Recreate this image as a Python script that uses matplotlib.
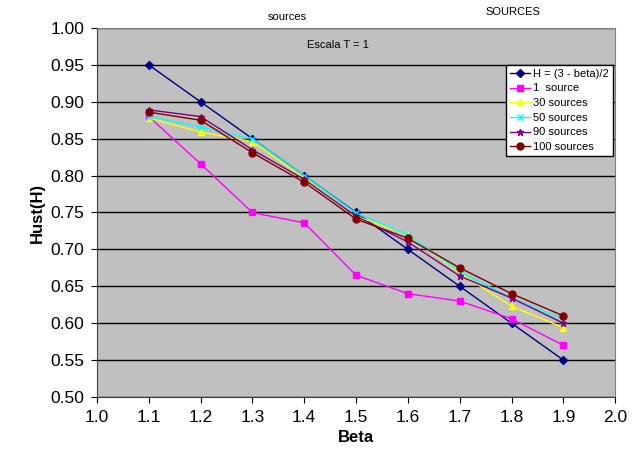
import matplotlib
matplotlib.use("Agg")
import matplotlib.pyplot as plt

plt.rcParams['font.family'] = ['Liberation Sans', 'DejaVu Sans']

beta = [1.1, 1.2, 1.3, 1.4, 1.5, 1.6, 1.7, 1.8, 1.9]
h_theory = [0.95, 0.90, 0.85, 0.80, 0.75, 0.70, 0.65, 0.60, 0.55]
src_1 = [0.88, 0.816, 0.75, 0.736, 0.665, 0.64, 0.63, 0.606, 0.57]
src_30 = [0.878, 0.859, 0.846, 0.797, 0.745, 0.72, 0.668, 0.623, 0.594]
src_50 = [0.88, 0.866, 0.85, 0.80, 0.749, 0.72, 0.670, 0.634, 0.605]
src_90 = [0.889, 0.880, 0.835, 0.795, 0.745, 0.71, 0.664, 0.634, 0.60]
src_100 = [0.886, 0.875, 0.831, 0.791, 0.741, 0.715, 0.675, 0.640, 0.610]

series = [
    ("H = (3 - beta)/2", h_theory, "#000080", "D", 4),
    ("1  source", src_1, "#FF00FF", "s", 4),
    ("30 sources", src_30, "#FFFF00", "^", 5),
    ("50 sources", src_50, "#00FFFF", "x", 4),
    ("90 sources", src_90, "#800080", "*", 5),
    ("100 sources", src_100, "#800000", "o", 5),
]

fig = plt.figure(figsize=(6.33, 4.66), dpi=100)
ax = fig.add_axes([0.153, 0.148, 0.819, 0.792])
ax.set_facecolor("#C0C0C0")

for label, vals, col, mk, ms in series:
    ax.plot(beta, vals, color=col, marker=mk, markersize=ms, linewidth=1, label=label)

ax.set_xlim(1.0, 2.0)
ax.set_ylim(0.50, 1.00)
ax.set_xticks([1.0 + 0.1 * i for i in range(11)])
ax.set_yticks([0.50 + 0.05 * i for i in range(11)])
ax.xaxis.set_major_formatter(matplotlib.ticker.FormatStrFormatter("%.1f"))
ax.yaxis.set_major_formatter(matplotlib.ticker.FormatStrFormatter("%.2f"))
ax.tick_params(labelsize=12.5, length=4, direction="out", pad=5)
ax.grid(axis="y", color="black", linewidth=1)
ax.set_axisbelow(True)
for side in ("top", "right"):
    ax.spines[side].set_color("#808080")
for side in ("left", "bottom"):
    ax.spines[side].set_color("#404040")

ax.set_xlabel("Beta", fontsize=12, fontweight="bold")
ax.set_ylabel("Hust(H)", fontsize=12, fontweight="bold")

ax.text(0.465, 0.955, "Escala T = 1", transform=ax.transAxes, fontsize=8, ha="center", va="center")
fig.text(287 / 633, 1 - 17 / 466, "sources", fontsize=8, ha="center", va="center")
fig.text(513 / 633, 1 - 12 / 466, "SOURCES", fontsize=8, ha="center", va="center")

leg = ax.legend(loc="upper right", bbox_to_anchor=(0.995, 0.9), fontsize=8,
                frameon=True, fancybox=False, edgecolor="black", framealpha=1,
                borderpad=0.35, labelspacing=0.42, handlelength=1.8, handletextpad=0.3,
                borderaxespad=0)
leg.get_frame().set_facecolor("white")

fig.savefig("out.png", dpi=100)
